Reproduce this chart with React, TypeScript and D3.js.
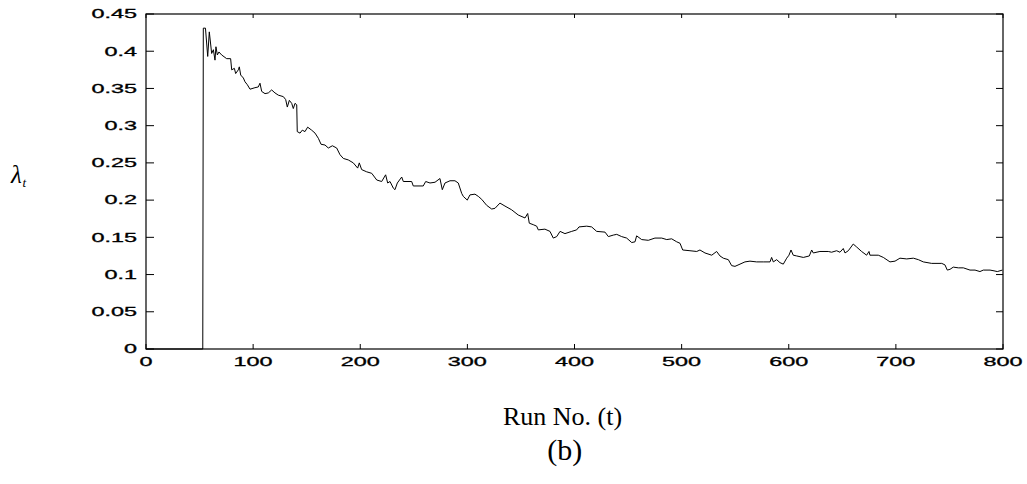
import React from "react";
import * as d3 from "d3";

// Run number (t) and estimated lambda_t
const runNo: number[] = [
  0, 53, 53.5, 55.5, 57.6, 59.1, 61.3, 62.9, 64.4, 65.3, 66.6, 68.1, 70.6, 75.3, 79.0, 80.0, 82.5, 83.7,
  86.2, 87.1, 88.4, 90.9, 92.4, 94.6, 97.1, 101.7, 104.8, 106.4, 108, 111.1, 114.2, 117.3, 120.4, 123.5,
  128.2, 130.4, 131.9, 133.8, 136, 137.5, 139.1, 140.7, 141.2, 143.8, 145.9, 148.4, 150.9, 154.6, 157.8,
  160.9, 163.4, 167.1, 170.2, 174, 178, 181.1, 184.2, 188.8, 193.5, 197.6, 199.1, 201.3, 206, 210.7,
  215.4, 220, 223.7, 225.6, 227.8, 230.9, 232.4, 234.6, 238.7, 240.2, 248, 249.5, 258.8, 261.1, 265.1,
  269.8, 274.4, 276.6, 279.1, 283.8, 288.4, 291.5, 294.7, 296.2, 299.9, 302.4, 307.1, 310.2, 313.4, 318,
  322.7, 325.8, 330.4, 335.1, 341.3, 347.5, 353.8, 356.3, 357.8, 361.5, 364.7, 366.2, 372.4, 377.1, 380.2,
  383.4, 386.5, 391.1, 397.4, 402, 404.2, 411.4, 416, 420.7, 428.5, 431.6, 436.2, 439.4, 444, 448.7, 453.4,
  456.5, 458, 462.7, 468.9, 475.1, 481.4, 486.1, 490.7, 495.4, 498.5, 501, 507.8, 514.1, 517.1, 521.8,
  528.1, 532.7, 535.8, 538.9, 543.6, 546.7, 549.8, 554.5, 559.1, 563.8, 570, 576.2, 582.5, 584, 585.6,
  588.7, 591.8, 594.9, 598.1, 600.2, 602.1, 604.2, 607.4, 613.6, 619.2, 621.4, 622.9, 629.1, 636.9, 640,
  644.7, 647.8, 650.9, 652.5, 655.6, 660.2, 663.4, 668, 672.7, 674.9, 675.8, 683.6, 688.3, 694.5, 699.2,
  703.8, 710.1, 716.3, 721, 725.6, 733.4, 742.8, 745.8, 748, 750.5, 753.6, 758.3, 763, 769.2, 773.9,
  778.5, 781.6, 787.9, 791.6, 794.7, 799.4,
];
const lambdaT: number[] = [
  0, 0, 0.431, 0.431, 0.393, 0.426, 0.397, 0.402, 0.388, 0.406, 0.395, 0.399, 0.395, 0.39, 0.39, 0.375, 0.377, 0.37,
  0.375, 0.379, 0.368, 0.364, 0.359, 0.355, 0.349, 0.351, 0.352, 0.357, 0.346, 0.343, 0.344, 0.348, 0.344, 0.341,
  0.339, 0.335, 0.325, 0.334, 0.33, 0.323, 0.33, 0.328, 0.292, 0.29, 0.294, 0.292, 0.298, 0.294, 0.29,
  0.283, 0.275, 0.274, 0.27, 0.273, 0.27, 0.261, 0.256, 0.254, 0.25, 0.243, 0.25, 0.241, 0.238, 0.236,
  0.227, 0.225, 0.234, 0.223, 0.225, 0.216, 0.214, 0.223, 0.231, 0.225, 0.225, 0.219, 0.219, 0.225, 0.223,
  0.224, 0.229, 0.214, 0.223, 0.226, 0.226, 0.223, 0.209, 0.205, 0.2, 0.207, 0.208, 0.205, 0.201, 0.193,
  0.188, 0.189, 0.196, 0.192, 0.187, 0.18, 0.176, 0.182, 0.169, 0.167, 0.165, 0.16, 0.161, 0.158, 0.149,
  0.151, 0.158, 0.155, 0.158, 0.16, 0.164, 0.165, 0.164, 0.158, 0.157, 0.151, 0.153, 0.154, 0.151, 0.149, 0.143,
  0.144, 0.152, 0.147, 0.146, 0.149, 0.149, 0.147, 0.148, 0.144, 0.142, 0.133, 0.132, 0.131, 0.133, 0.129,
  0.126, 0.131, 0.125, 0.122, 0.12, 0.112, 0.111, 0.114, 0.117, 0.118, 0.117, 0.117, 0.117, 0.123, 0.117,
  0.12, 0.116, 0.114, 0.122, 0.126, 0.133, 0.126, 0.125, 0.123, 0.125, 0.133, 0.129, 0.131, 0.131, 0.13,
  0.132, 0.13, 0.135, 0.129, 0.132, 0.141, 0.137, 0.131, 0.126, 0.131, 0.126, 0.126, 0.123, 0.117, 0.118,
  0.122, 0.121, 0.122, 0.12, 0.117, 0.115, 0.115, 0.113, 0.106, 0.107, 0.11, 0.109, 0.109, 0.106, 0.106,
  0.104, 0.106, 0.106, 0.105, 0.104, 0.106,
];

const xTicks: number[] = [0, 100, 200, 300, 400, 500, 600, 700, 800];
const yTicks: number[] = [0, 0.05, 0.1, 0.15, 0.2, 0.25, 0.3, 0.35, 0.4, 0.45];
const yTickLabels: string[] = ["0", "0.05", "0.1", "0.15", "0.2", "0.25", "0.3", "0.35", "0.4", "0.45"];
const xLabel = "Run No. (t)";
const caption = "(b)";

const W = 1027;
const H = 484;
const L = 146;
const R = 1003;
const T = 14;
const B = 349;

export default function App() {
  const x = d3.scaleLinear().domain([0, 800]).range([L, R]);
  const y = d3.scaleLinear().domain([0, 0.45]).range([B, T]);
  const pts: [number, number][] = runNo.map((t, i) => [t, lambdaT[i]]);
  const line = d3
    .line<[number, number]>()
    .x((d) => x(d[0]))
    .y((d) => y(d[1]));
  const tickFont = "'Liberation Sans', Arial, sans-serif";
  const sx = 1.95;
  return (
    <svg
      width={W}
      height={H}
      style={{ position: "absolute", left: 0, top: 0, background: "#fff" }}
    >
      <rect x={0} y={0} width={W} height={H} fill="#fff" />
      <path d={line(pts) || ""} fill="none" stroke="#000" strokeWidth={1} />
      <rect x={L} y={T} width={R - L} height={B - T} fill="none" stroke="#000" strokeWidth={1.2} />
      {xTicks.map((t) => (
        <g key={"xt" + t}>
          <line x1={x(t)} x2={x(t)} y1={B} y2={B - 5} stroke="#000" strokeWidth={1} />
          <line x1={x(t)} x2={x(t)} y1={T} y2={T + 4} stroke="#000" strokeWidth={1} />
          <text
            transform={`translate(${x(t)},${B + 17}) scale(${sx},1)`}
            textAnchor="middle"
            fontFamily={tickFont}
            fontSize={12}
            fill="#000"
            stroke="#000"
            strokeWidth={0.3}
          >
            {String(t)}
          </text>
        </g>
      ))}
      {yTicks.map((v, i) => (
        <g key={"yt" + i}>
          <line x1={L} x2={L + 8} y1={y(v)} y2={y(v)} stroke="#000" strokeWidth={1} />
          <line x1={R} x2={R - 7} y1={y(v)} y2={y(v)} stroke="#000" strokeWidth={1} />
          <text
            transform={`translate(${L - 9},${y(v) + 4.3}) scale(${sx},1)`}
            textAnchor="end"
            fontFamily={tickFont}
            fontSize={12}
            fill="#000"
            stroke="#000"
            strokeWidth={0.3}
          >
            {yTickLabels[i]}
          </text>
        </g>
      ))}
      <text x={11} y={183} fontFamily="'Liberation Serif', 'Times New Roman', serif" fontStyle="italic" fontSize={25} fill="#000">
        λ
      </text>
      <text x={22.5} y={187} fontFamily="'Liberation Serif', 'Times New Roman', serif" fontStyle="italic" fontSize={13} fill="#000">
        t
      </text>
      <text x={562.5} y={425} textAnchor="middle" fontFamily="'Liberation Serif', 'Times New Roman', serif" fontSize={26} fill="#000">
        {xLabel}
      </text>
      <text x={564.7} y={460} textAnchor="middle" fontFamily="'Liberation Serif', 'Times New Roman', serif" fontSize={30} fill="#000">
        {caption}
      </text>
    </svg>
  );
}
